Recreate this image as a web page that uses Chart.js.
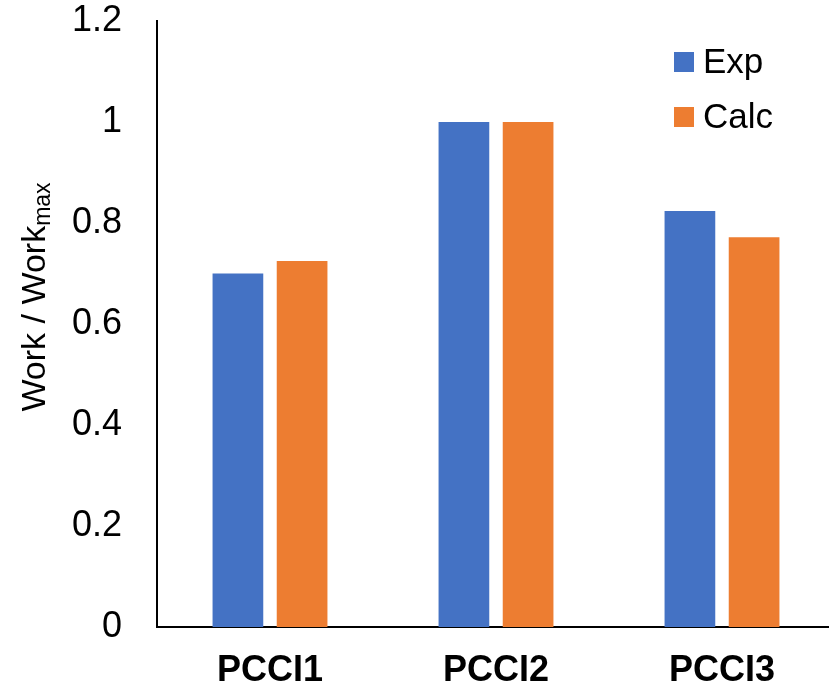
<!DOCTYPE html>
<html>
<head>
<meta charset="utf-8">
<script src="https://cdn.jsdelivr.net/npm/chart.js@4"></script>
<style>
  html, body { margin: 0; padding: 0; background: #fff; overflow: hidden; }
  /* a figura original é cortada à direita: a área do gráfico passa um pouco da janela */
  #wrap { width: 835px; height: 688px; position: relative; }
</style>
</head>
<body>
<div id="wrap"><canvas id="grafico"></canvas></div>
<script>
// Dados do gráfico
const categorias = ['PCCI1', 'PCCI2', 'PCCI3'];
const valoresExp = [0.70, 1.00, 0.824];
const valoresCalc = [0.725, 1.00, 0.772];
const ticksY = [0, 0.2, 0.4, 0.6, 0.8, 1, 1.2];
const nomesSeries = ['Exp', 'Calc'];

const corAzul = '#4472C4';
const corLaranja = '#ED7D31';
const fonte = '"Liberation Sans", Arial, sans-serif';

// Título do eixo Y com subscrito (Work / Work_max)
const tituloEixoY = {
  id: 'tituloEixoY',
  afterDraw(chart) {
    const ctx = chart.ctx;
    const principal = 'Work / Work';
    ctx.save();
    ctx.translate(45, 297);
    ctx.rotate(-Math.PI / 2);
    ctx.fillStyle = '#000';
    ctx.textBaseline = 'alphabetic';
    ctx.textAlign = 'left';
    ctx.font = '34px ' + fonte;
    const w1 = ctx.measureText(principal).width;
    ctx.font = '23px ' + fonte;
    const w2 = ctx.measureText('max').width;
    const inicio = -(w1 + w2) / 2;
    ctx.font = '34px ' + fonte;
    ctx.fillText(principal, inicio, 0);
    ctx.font = '23px ' + fonte;
    ctx.fillText('max', inicio + w1, 5);
    ctx.restore();
  }
};

// Legenda desenhada no canto superior direito
const legendaCustom = {
  id: 'legendaCustom',
  afterDraw(chart) {
    const ctx = chart.ctx;
    const cores = [corAzul, corLaranja];
    const linhasBase = [73, 128];
    ctx.save();
    nomesSeries.forEach((nome, i) => {
      ctx.fillStyle = cores[i];
      ctx.fillRect(674, linhasBase[i] - 21, 20, 20);
      ctx.fillStyle = '#000';
      ctx.font = '35px ' + fonte;
      ctx.textAlign = 'left';
      ctx.textBaseline = 'alphabetic';
      ctx.fillText(nome, 703, linhasBase[i]);
    });
    ctx.restore();
  }
};

const ctxGrafico = document.getElementById('grafico').getContext('2d');
new Chart(ctxGrafico, {
  type: 'bar',
  data: {
    labels: categorias,
    datasets: [
      { label: nomesSeries[0], data: valoresExp, backgroundColor: corAzul },
      { label: nomesSeries[1], data: valoresCalc, backgroundColor: corLaranja }
    ]
  },
  options: {
    responsive: true,
    maintainAspectRatio: false,
    animation: false,
    devicePixelRatio: 1,
    categoryPercentage: 0.568,
    barPercentage: 0.79,
    layout: { padding: { top: 21, right: 0, left: 0, bottom: 0 } },
    plugins: {
      legend: { display: false },
      tooltip: { enabled: false }
    },
    scales: {
      x: {
        grid: { display: false, drawTicks: false },
        border: { display: true, color: '#000', width: 2 },
        ticks: {
          color: '#000',
          font: { family: fonte, size: 36, weight: 'bold' },
          padding: 22
        },
        afterFit(scale) {
          scale.height = 61;
          scale.paddingLeft = 0;
          scale.paddingRight = 0;
        }
      },
      y: {
        min: 0,
        max: 1.2,
        grid: { display: false, drawTicks: false },
        border: { display: true, color: '#000', width: 2 },
        afterBuildTicks(scale) {
          scale.ticks = ticksY.map(v => ({ value: v }));
        },
        ticks: {
          color: '#000',
          font: { family: fonte, size: 36 },
          padding: 35,
          callback: v => String(v)
        },
        afterFit(scale) {
          scale.width = 157;
          scale.paddingTop = 0;
          scale.paddingBottom = 0;
        }
      }
    }
  },
  plugins: [tituloEixoY, legendaCustom]
});
</script>
</body>
</html>
